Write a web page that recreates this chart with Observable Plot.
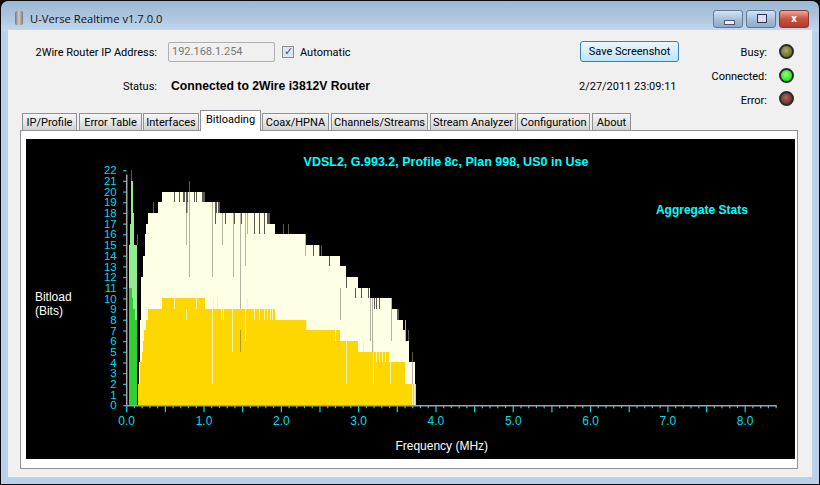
<!DOCTYPE html>
<html>
<head>
<meta charset="utf-8">
<script src="https://cdn.jsdelivr.net/npm/d3@7"></script>
<script src="https://cdn.jsdelivr.net/npm/@observablehq/plot@0.6"></script>
<style>
html,body{margin:0;padding:0;width:820px;height:485px;overflow:hidden;background:#0b0b0b;font-family:"Roboto","Liberation Sans",Arial,sans-serif;font-size:11px;color:#000}
.a{position:absolute;white-space:nowrap}
.lbl{transform:translateY(calc(-50% + 1px));line-height:14px}
#win{left:1px;top:1px;width:818px;height:483px;border-radius:7px 7px 0 0;background:linear-gradient(#9db8d5 0,#b0c8e0 18px,#c3d8ec 30px,#b9d1ea 31px);}
#body{left:8px;top:30px;width:804px;height:447px;background:#f0f0f0}
#page{left:20px;top:130px;width:776px;height:337px;background:#fff;border:1px solid #8e9297}
.tab{top:113px;height:17px;box-sizing:border-box;border:1px solid #8e9297;border-bottom:0;background:linear-gradient(#f6f6f6,#e6e6e6 50%,#d2d2d2);text-align:center;line-height:17px}
.tab.on{top:110px;height:21px;background:#fff;line-height:18px;z-index:3}
.led{width:15px;height:15px;border-radius:50%;border:2px solid #2a2a2a;box-sizing:border-box}
.wb{top:10px;height:18px;box-sizing:border-box;border:1px solid #5d7a99;border-radius:3px;background:linear-gradient(#d5e2f0,#a9c1da 50%,#8eaac8)}
#plot{left:26px;top:139px;width:769px;height:320px;background:#000}
#plot svg{display:block}
</style>
</head>
<body>
<div class="a" id="win"></div>
<div class="a" style="left:15px;top:11px;width:8px;height:14px;background:linear-gradient(90deg,#777,#ccc,#777);border-radius:2px"></div>
<div class="a lbl" style="left:30px;top:18px;font-family:'Open Sans';font-size:11.2px;color:#111">U-Verse Realtime v1.7.0.0</div>
<div class="a wb" style="left:713px;width:30px"><div class="a" style="left:10px;top:9px;width:9px;height:3px;background:#eef;border:1px solid #557"></div></div>
<div class="a wb" style="left:746px;width:30px"><div class="a" style="left:10px;top:3px;width:8px;height:7px;border:1px solid #335;background:#dde"></div></div>
<div class="a wb" style="left:779px;width:30px;background:linear-gradient(#e8a79c,#c9523f 50%,#b23a2c);border-color:#8a3b30;color:#fff;text-align:center;font-weight:bold;line-height:15px">x</div>
<div class="a" id="body"></div>

<div class="a lbl" style="right:663px;top:52px">2Wire Router IP Address:</div>
<div class="a" style="left:168px;top:42px;width:107px;height:20px;box-sizing:border-box;border:1px solid #b0b0b0;border-radius:2px;background:#f0f0f0;color:#777;padding-left:3px;line-height:18px">192.168.1.254</div>
<div class="a" style="left:282px;top:46px;width:12px;height:12px;box-sizing:border-box;border:1px solid #8a8a8a;background:#dfe6f0;color:#3a4f8a;font-size:11px;line-height:10px;text-align:center">✓</div>
<div class="a lbl" style="left:300px;top:52px">Automatic</div>
<div class="a" style="left:580px;top:41px;width:99px;height:21px;box-sizing:border-box;border:1px solid #3c7fb1;border-radius:3px;background:linear-gradient(#eaf6fd,#bee6fd);text-align:center;line-height:19px">Save Screenshot</div>
<div class="a lbl" style="right:53px;top:52px">Busy:</div>
<div class="a lbl" style="right:53px;top:76px">Connected:</div>
<div class="a lbl" style="right:53px;top:100px">Error:</div>
<div class="a led" style="left:779px;top:44px;background:radial-gradient(circle at 45% 40%,#a9a969,#6f6f2c 70%)"></div>
<div class="a led" style="left:779px;top:68px;background:radial-gradient(circle at 45% 40%,#8dff7a,#30e02a 70%)"></div>
<div class="a led" style="left:779px;top:91px;background:radial-gradient(circle at 45% 40%,#a86b5f,#6f3228 70%)"></div>
<div class="a lbl" style="right:663px;top:86px">Status:</div>
<div class="a lbl" style="left:171px;top:85px;font-family:'Liberation Sans';font-size:12.2px;font-weight:bold">Connected to 2Wire i3812V Router</div>
<div class="a lbl" style="left:579px;top:86px">2/27/2011 23:09:11</div>

<div class="a" id="page"></div>
<div class="a tab" style="left:22px;width:55px">IP/Profile</div>
<div class="a tab" style="left:79px;width:63px">Error Table</div>
<div class="a tab" style="left:143px;width:56px">Interfaces</div>
<div class="a tab on" style="left:200px;width:61px">Bitloading</div>
<div class="a tab" style="left:262px;width:67px">Coax/HPNA</div>
<div class="a tab" style="left:331px;width:97px">Channels/Streams</div>
<div class="a tab" style="left:430px;width:86px">Stream Analyzer</div>
<div class="a tab" style="left:517px;width:73px">Configuration</div>
<div class="a tab" style="left:592px;width:39px">About</div>

<div class="a" id="plot"></div>

<script>
// --- Chart data ---
// Step profiles: edges (MHz) and the bit level between consecutive edges.
const maxEdges = [0.163,0.181,0.194,0.215,0.237,0.259,0.280,0.409,0.461,1.023,1.186,1.829,1.920,2.308,2.502,2.761,2.839,2.994,3.150,3.421,3.499,3.585,3.625,3.654,3.732,3.754];
const maxBits  = [4,8,12,14,16,17,18,19,20,19,18,17,16,15,14,13,12,11,10,9,8,7,6,4,2];
const curEdges = [0.159,0.181,0.198,0.211,0.224,0.250,0.280,0.461,1.023,1.920,2.330,2.761,2.998,3.395,3.612,3.754];
const curBits  = [2,4,5,6,7,8,9,10,9,8,7,6,5,4,2];
const usMaxEdges = [0.034,0.043,0.060,0.094,0.107,0.142];
const usMaxBits  = [15,17,21,18,15];
const usCurEdges = [0.034,0.078,0.094,0.111,0.142];
const usCurBits  = [11,10,9,8];
// Tones that fell below the profile: faint streaks on the pale area.
const dipFreq = [0.768,0.781,0.810,1.108,1.234,1.376,1.476,1.535,1.557,2.308,2.761,3.150,3.176,3.421,3.612,3.700];
const dipLow  = [15,18,12,12,15,12,5,13,16,14,8,6,5,6,6,2];
const dipHigh = [18,19,20,19,18,18,18,18,18,16,11,10,10,10,8,4];
// Peak-hold tones above the current load: dark streaks along the top.
const peakFreq = [0.060,0.137,0.350,0.616,0.677,0.730,0.742,0.768,0.781,0.810,0.871,0.897,0.975,0.988,1.000,1.010,1.143,1.156,1.182,1.195,1.234,1.273,1.376,1.395,1.476,1.489,1.535,1.557,1.648,1.713,1.777,1.816,1.829,1.850,2.034,2.087,2.308,2.416,2.489,2.515,2.624,2.838,2.955,3.040,3.132,3.176,3.200,3.230,3.269,3.421,3.499,3.512,3.612,3.650,3.700];
const peakLow  = [15,15,18,19,19,19,19,18,19,20,19,19,19,19,19,19,17,18,18,18,17,17,17,17,17,17,16,16,16,16,16,17,17,17,16,16,15,14,14,14,13,11,10,10,10,9,9,9,9,9,8,8,7,6,4];
const peakHigh = [22,16,19,20,20,20,20,20,20,21,20,20,20,20,20,20,19,19,19,19,18,18,18,18,18,18,18,18,18,18,18,18,18,18,17,17,16,15,15,15,14,12,11,11,11,10,10,10,10,10,9,9,8,7,5];
// Tones loaded below the step: light streaks on the gold area.
const goldDipFreq = [0.616,0.768,0.905,1.120,1.108,1.172,1.229,1.247,1.370,1.535,1.568,1.656,1.721,1.777,1.816,1.855,1.885,2.330,2.696,2.849,3.065,3.191,3.236,3.274,3.314,3.353,3.408,3.612,3.700,3.726];
const goldDipLow  = [9,8,9,9,2,9,8,8,5,6,9,8,8,8,8,8,8,7,6,2,5,2,4,4,4,4,2,3,0,0];
const goldDipHigh = [10,9,10,10,9,10,9,9,9,9,10,9,9,9,9,9,9,8,7,6,6,6,5,5,5,5,4,4,2,2];
const goldShadeFreq = [1.476];
const goldShadeLow  = [5];
const goldShadeHigh = [7];

const xLabelTicks = [0,1,2,3,4,5,6,7,8];
const xMidTicks   = [0.5,1.5,2.5,3.5,4.5,5.5,6.5,7.5];
const xMinorTicks = d3.range(0,85).map(i => i/10).filter(v => Math.abs(v*2-Math.round(v*2))>1e-6);
const yTicks = d3.range(0,23);

const steps = (edges, bits) => bits.map((b,i) => ({x1:edges[i], x2:edges[i+1], b}));
const streaks = (f, lo, hi) => f.map((x,i) => ({x, lo:lo[i], hi:hi[i]}));

const paleCol="#ffffe6", goldCol="#ffd700", lightGreen="#90ee90", darkGreen="#32cd32", cyan="#00dde6", title="#00ffff";
const crisp = {shapeRendering:"crispEdges"};
const font = "Liberation Sans, Arial, sans-serif";

const chart = Plot.plot({
  width:769, height:320,
  marginLeft:100.2, marginRight:18.3, marginTop:31.2, marginBottom:53.8,
  style:{background:"#000", fontFamily:font},
  x:{domain:[0,8.414], axis:null},
  y:{domain:[0,22], axis:null},
  marks:[
    Plot.rectY(steps(maxEdges,maxBits),{x1:"x1",x2:"x2",y:"b",fill:paleCol,...crisp}),
    Plot.ruleX(streaks(peakFreq,peakLow,peakHigh),{x:"x",y1:"lo",y2:"hi",stroke:"#5a5a4e",strokeWidth:1,...crisp}),
    Plot.ruleX(streaks(dipFreq,dipLow,dipHigh),{x:"x",y1:"lo",y2:"hi",stroke:"#b4b4a0",strokeWidth:1,...crisp}),
    Plot.rectY(steps(curEdges,curBits),{x1:"x1",x2:"x2",y:"b",fill:goldCol,...crisp}),
    Plot.ruleX(streaks(goldDipFreq,goldDipLow,goldDipHigh),{x:"x",y1:"lo",y2:"hi",stroke:"#fff2b0",strokeWidth:1,...crisp}),
    Plot.ruleX(streaks(goldShadeFreq,goldShadeLow,goldShadeHigh),{x:"x",y1:"lo",y2:"hi",stroke:"#b09a20",strokeWidth:1,...crisp}),
    Plot.rectY(steps(usMaxEdges,usMaxBits),{x1:"x1",x2:"x2",y:"b",fill:lightGreen,...crisp}),
    Plot.rectY(steps(usCurEdges,usCurBits),{x1:"x1",x2:"x2",y:"b",fill:darkGreen,...crisp}),
    Plot.axisX({ticks:xMinorTicks,tickSize:3,stroke:cyan,strokeWidth:1.2,text:null,label:null}),
    Plot.axisX({ticks:xMidTicks,tickSize:7,stroke:cyan,strokeWidth:1.2,text:null,label:null}),
    Plot.axisX({ticks:xLabelTicks,tickSize:7,tickPadding:4,stroke:cyan,strokeWidth:1.2,fill:cyan,fontSize:12,tickFormat:d3.format(".1f"),label:null}),
    Plot.axisY({ticks:yTicks,tickSize:3,tickPadding:7,stroke:cyan,strokeWidth:1.2,fill:cyan,fontSize:11.5,label:null,tickFormat:d=>d}),
    Plot.ruleX([0],{y1:0,y2:21.6,stroke:"#a8a8a8",strokeWidth:1.5}),
    Plot.ruleY([0],{x1:0,x2:8.414,stroke:"#a0a0a0",strokeWidth:1.5}),
    Plot.text(["VDSL2, G.993.2, Profile 8c, Plan 998, US0 in Use"],{x:[4.13],y:[22.85],fill:title,fontSize:12.5,fontWeight:"bold",textAnchor:"middle"}),
    Plot.text(["Aggregate Stats"],{x:[7.44],y:[18.3],fill:title,fontSize:12,fontWeight:"bold",textAnchor:"middle"}),
    Plot.text(["Bitload\n(Bits)"],{x:[-1.187],y:[9.6],fill:"#fff",fontSize:12,lineHeight:1.17,textAnchor:"start"}),
    Plot.text(["Frequency (MHz)"],{x:[4.075],y:[-3.77],fill:"#fff",fontSize:12,textAnchor:"middle"})
  ]
});
document.getElementById("plot").appendChild(chart);
</script>
</body>
</html>
